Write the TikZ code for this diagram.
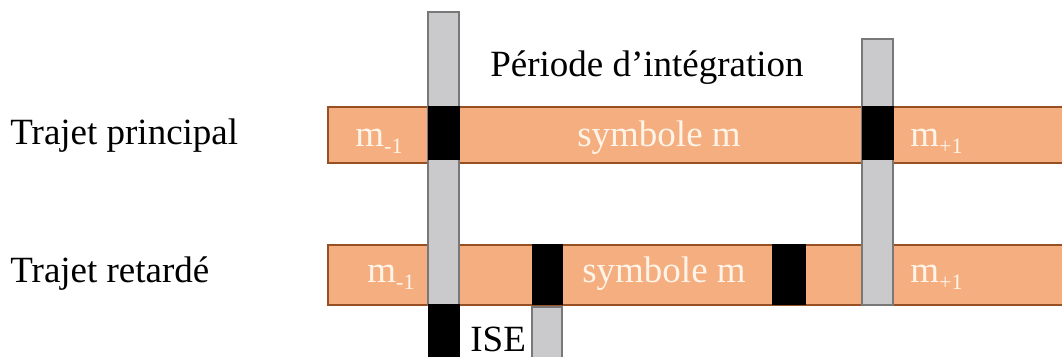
\documentclass[tikz,border=0pt]{standalone}
\usepackage{fontspec}
\setmainfont{Liberation Serif}
\usetikzlibrary{positioning}
\definecolor{symbfill}{RGB}{244,174,128}
\definecolor{symbline}{RGB}{150,80,35}
\definecolor{gatefill}{RGB}{202,202,204}
\definecolor{gateline}{RGB}{120,120,120}
\definecolor{symbtext}{RGB}{255,244,232}
\newcommand{\msub}[1]{\raisebox{-.4ex}{\fontsize{11}{11}\selectfont #1}}

\begin{document}
\begin{tikzpicture}[x=.5pt,y=-.5pt,every node/.append style={font=\fontsize{18.5}{20}\selectfont,
                    inner sep=0pt},
                    symbbar/.style={fill=symbfill,draw=symbline,line width=1pt},
                    gatebar/.style={fill=gatefill,draw=gateline,line width=1pt},
                    isibar/.style={fill=black,draw=black,line width=.5pt},
                    intext/.style={text=symbtext}]
    \useasboundingbox (0,0) rectangle (1062,357);
    \begin{scope}
      % the two paths
      \draw[symbbar] (328,107) rectangle (1068,163);
      \draw[symbbar] (328,245) rectangle (1068,305);
      % inter-symbol guard zones of the delayed path
      \draw[isibar] (532,245) rectangle (562,305);
      \draw[isibar] (772,245) rectangle (805,305);
      % integration window limits
      \draw[gatebar] (428,12) rectangle (459,305);
      \draw[gatebar] (862,39) rectangle (893,305);
      \draw[isibar] (428,107) rectangle (459,160);
      \draw[isibar] (862,107) rectangle (893,160);
      \draw[isibar] (428,305) rectangle (459,364);
      \draw[gatebar] (532,307) rectangle (562,364);
    \end{scope}
    \node[anchor=base west] (principal) at (10,145) {Trajet principal};
    \node[anchor=base west] (retarde) at (10,283) {Trajet retardé};
    \node[anchor=base] (periode) at (647,77) {Période d’intégration};
    \node[anchor=base west] (ise) at (470,352) {ISE};
    \node[intext,anchor=base west] (pprev) at (355,147) {m\msub{-1}};
    \node[intext,anchor=base] (psymb) at (659,147) {symbole m};
    \node[intext,anchor=base west] (pnext) at (910,147) {m\msub{+1}};
    \node[intext,anchor=base west] (rprev) at (367,283) {m\msub{-1}};
    \node[intext,anchor=base] (rsymb) at (664,283) {symbole m};
    \node[intext,anchor=base west] (rnext) at (910,283) {m\msub{+1}};
\end{tikzpicture}
\end{document}
